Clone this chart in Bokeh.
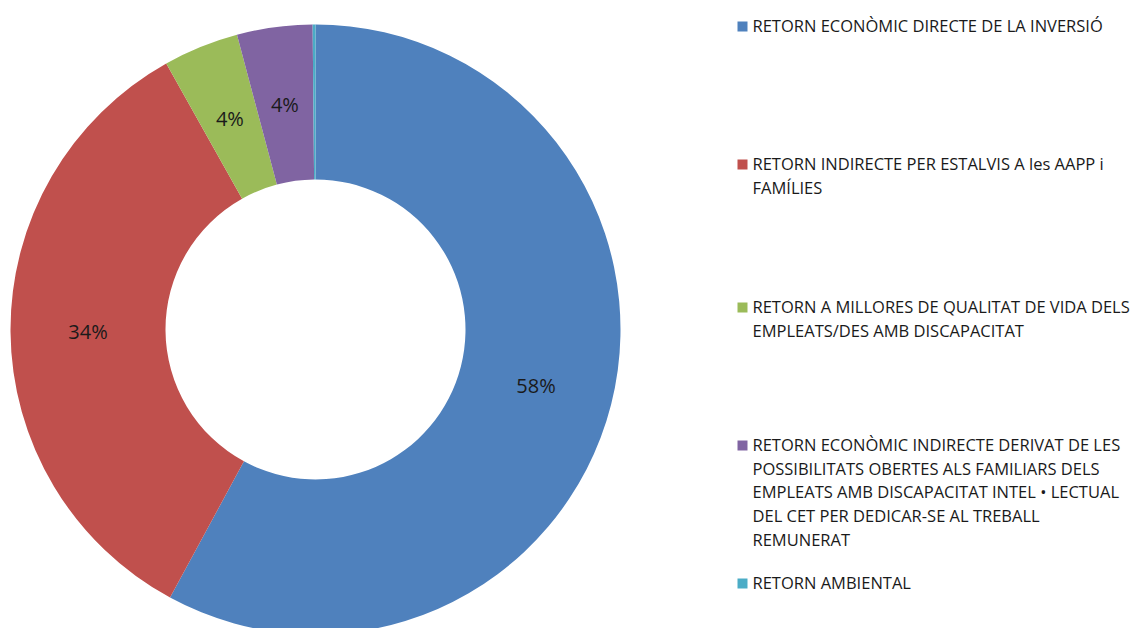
import math
from bokeh.plotting import figure
from bokeh.models import ColumnDataSource, Range1d
from bokeh.core.properties import value
from bokeh.embed import file_html
from bokeh.resources import INLINE

categories = [
    "RETORN ECONÒMIC DIRECTE DE LA INVERSIÓ",
    "RETORN INDIRECTE PER ESTALVIS A les AAPP i FAMÍLIES",
    "RETORN A MILLORES DE QUALITAT DE VIDA DELS EMPLEATS/DES AMB DISCAPACITAT",
    "RETORN ECONÒMIC INDIRECTE DERIVAT DE LES POSSIBILITATS OBERTES ALS FAMILIARS DELS EMPLEATS AMB DISCAPACITAT INTEL • LECTUAL DEL CET PER DEDICAR-SE AL TREBALL REMUNERAT",
    "RETORN AMBIENTAL",
]
legend_lines = [
    ["RETORN ECONÒMIC DIRECTE DE LA INVERSIÓ"],
    ["RETORN INDIRECTE PER ESTALVIS A les AAPP i", "FAMÍLIES"],
    ["RETORN A MILLORES DE QUALITAT DE VIDA DELS", "EMPLEATS/DES AMB DISCAPACITAT"],
    ["RETORN ECONÒMIC INDIRECTE DERIVAT DE LES", "POSSIBILITATS OBERTES ALS FAMILIARS DELS",
     "EMPLEATS AMB DISCAPACITAT INTEL • LECTUAL", "DEL CET PER DEDICAR-SE AL TREBALL", "REMUNERAT"],
    ["RETORN AMBIENTAL"],
]
values = [58.0, 34.0, 4.0, 4.0, 0.15]
labels = ["58%", "34%", "4%", "4%", ""]
colors = ["#4F81BD", "#C0504D", "#9BBB59", "#8064A2", "#4BACC6"]

W, H = 1136, 628
def sx(x):
    return x
def sy(y):
    return H - y

cx, cy = sx(315), sy(329)
r_out, r_in = 305, 150

total = sum(values)
starts, ends, lx, ly = [], [], [], []
cum = 0.0
for v in values:
    a0 = math.pi / 2 - cum / total * 2 * math.pi
    cum += v
    a1 = math.pi / 2 - cum / total * 2 * math.pi
    starts.append(a0)
    ends.append(a1)
    mid = (a0 + a1) / 2
    rm = (r_out + r_in) / 2
    lx.append(cx + rm * math.cos(mid))
    ly.append(cy + rm * math.sin(mid))

src = ColumnDataSource(dict(start=starts, end=ends, color=colors, lx=lx, ly=ly, label=labels))

p = figure(width=W, height=H, output_backend="svg", toolbar_location=None,
           x_range=Range1d(0, W), y_range=Range1d(0, H), min_border=0)
p.axis.visible = False
p.grid.visible = False
p.outline_line_color = None
p.background_fill_color = "white"
p.border_fill_color = "white"

p.annular_wedge(x=cx, y=cy, inner_radius=r_in, outer_radius=r_out,
                start_angle="start", end_angle="end", direction="clock",
                fill_color="color", line_color=None, source=src)

p.text(x="lx", y="ly", text="label", source=src, text_align="center", text_baseline="middle",
       text_font=value("Open Sans"), text_font_size="20px", text_color="#1a1a1a")

first_y = [25, 163, 306, 444, 582]
line_h = 23.7
tx, ty, tt = [], [], []
qx, qy, qc = [], [], []
for i, lines in enumerate(legend_lines):
    qx.append(sx(742))
    qy.append(sy(first_y[i] + 1))
    qc.append(colors[i])
    for j, line in enumerate(lines):
        tx.append(sx(752))
        ty.append(sy(first_y[i] + j * line_h))
        tt.append(line)

p.rect(x=qx, y=qy, width=10, height=10, fill_color=qc, line_color=None)
p.text(x=tx, y=ty, text=tt, text_align="left", text_baseline="middle",
       text_font=value("Open Sans"), text_font_size="16.5px", text_color="#1a1a1a")

open("out.html", "w").write(file_html(p, INLINE))
